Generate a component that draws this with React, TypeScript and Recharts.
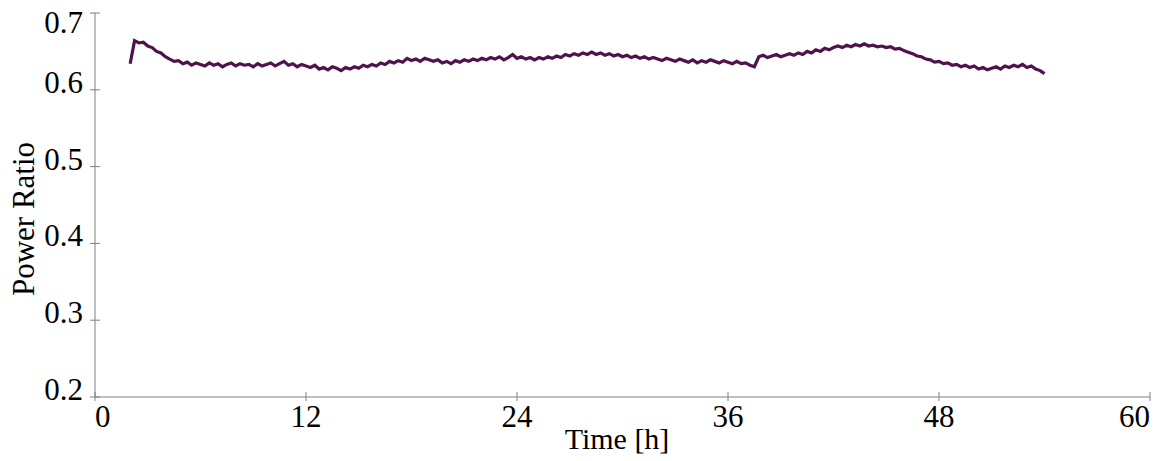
import React from "react";
import { LineChart, Line, XAxis, YAxis, Label } from "recharts";

const hours = [
  2.0, 2.25, 2.5, 2.75, 3.0, 3.25, 3.5, 3.75, 4.0, 4.25, 4.5, 4.75,
  5.0, 5.25, 5.5, 5.75, 6.0, 6.25, 6.5, 6.75, 7.0, 7.25, 7.5, 7.75,
  8.0, 8.25, 8.5, 8.75, 9.0, 9.25, 9.5, 9.75, 10.0, 10.25, 10.5, 10.75,
  11.0, 11.25, 11.5, 11.75, 12.0, 12.25, 12.5, 12.75, 13.0, 13.25, 13.5, 13.75,
  14.0, 14.25, 14.5, 14.75, 15.0, 15.25, 15.5, 15.75, 16.0, 16.25, 16.5, 16.75,
  17.0, 17.25, 17.5, 17.75, 18.0, 18.25, 18.5, 18.75, 19.0, 19.25, 19.5, 19.75,
  20.0, 20.25, 20.5, 20.75, 21.0, 21.25, 21.5, 21.75, 22.0, 22.25, 22.5, 22.75,
  23.0, 23.25, 23.5, 23.75, 24.0, 24.25, 24.5, 24.75, 25.0, 25.25, 25.5, 25.75,
  26.0, 26.25, 26.5, 26.75, 27.0, 27.25, 27.5, 27.75, 28.0, 28.25, 28.5, 28.75,
  29.0, 29.25, 29.5, 29.75, 30.0, 30.25, 30.5, 30.75, 31.0, 31.25, 31.5, 31.75,
  32.0, 32.25, 32.5, 32.75, 33.0, 33.25, 33.5, 33.75, 34.0, 34.25, 34.5, 34.75,
  35.0, 35.25, 35.5, 35.75, 36.0, 36.25, 36.5, 36.75, 37.0, 37.25, 37.5, 37.75,
  38.0, 38.25, 38.5, 38.75, 39.0, 39.25, 39.5, 39.75, 40.0, 40.25, 40.5, 40.75,
  41.0, 41.25, 41.5, 41.75, 42.0, 42.25, 42.5, 42.75, 43.0, 43.25, 43.5, 43.75,
  44.0, 44.25, 44.5, 44.75, 45.0, 45.25, 45.5, 45.75, 46.0, 46.25, 46.5, 46.75,
  47.0, 47.25, 47.5, 47.75, 48.0, 48.25, 48.5, 48.75, 49.0, 49.25, 49.5, 49.75,
  50.0, 50.25, 50.5, 50.75, 51.0, 51.25, 51.5, 51.75, 52.0, 52.25, 52.5, 52.75,
  53.0, 53.25, 53.5, 53.75, 54.0,
];

const powerRatio = [
  0.634, 0.664, 0.661, 0.662, 0.657, 0.655, 0.650, 0.648, 0.643, 0.640, 0.637, 0.638,
  0.634, 0.636, 0.632, 0.635, 0.633, 0.631, 0.635, 0.632, 0.634, 0.630, 0.633, 0.635,
  0.631, 0.634, 0.632, 0.633, 0.630, 0.634, 0.631, 0.633, 0.635, 0.631, 0.634, 0.637,
  0.632, 0.634, 0.630, 0.633, 0.631, 0.629, 0.632, 0.627, 0.629, 0.626, 0.630, 0.628,
  0.625, 0.629, 0.627, 0.630, 0.628, 0.632, 0.630, 0.633, 0.631, 0.635, 0.633, 0.637,
  0.635, 0.638, 0.636, 0.641, 0.638, 0.640, 0.637, 0.641, 0.639, 0.637, 0.639, 0.635,
  0.637, 0.634, 0.638, 0.636, 0.639, 0.637, 0.640, 0.638, 0.641, 0.639, 0.642, 0.640,
  0.643, 0.639, 0.642, 0.646, 0.641, 0.643, 0.640, 0.642, 0.639, 0.642, 0.640, 0.643,
  0.641, 0.644, 0.642, 0.646, 0.644, 0.647, 0.645, 0.648, 0.646, 0.649, 0.646, 0.648,
  0.645, 0.647, 0.644, 0.646, 0.643, 0.645, 0.642, 0.644, 0.641, 0.643, 0.640, 0.642,
  0.640, 0.638, 0.641, 0.639, 0.637, 0.640, 0.638, 0.636, 0.639, 0.635, 0.638, 0.636,
  0.639, 0.637, 0.635, 0.638, 0.636, 0.634, 0.637, 0.634, 0.635, 0.632, 0.630, 0.643,
  0.645, 0.642, 0.644, 0.646, 0.643, 0.645, 0.647, 0.645, 0.648, 0.646, 0.650, 0.648,
  0.652, 0.650, 0.654, 0.652, 0.655, 0.657, 0.655, 0.658, 0.656, 0.659, 0.657, 0.660,
  0.657, 0.658, 0.656, 0.657, 0.655, 0.656, 0.653, 0.654, 0.651, 0.649, 0.647, 0.644,
  0.643, 0.640, 0.639, 0.636, 0.637, 0.634, 0.635, 0.632, 0.633, 0.630, 0.632, 0.629,
  0.631, 0.627, 0.629, 0.626, 0.628, 0.630, 0.627, 0.631, 0.629, 0.632, 0.630, 0.633,
  0.629, 0.631, 0.627, 0.625, 0.621,
];

const xTicks = [0, 12, 24, 36, 48, 60];
const yTicks = [0.2, 0.3, 0.4, 0.5, 0.6, 0.7];

const data = hours.map((t, i) => ({ t, v: powerRatio[i] }));

const FONT = '"Liberation Serif", "Times New Roman", serif';
const AXIS = "#808080";

const XTick = (props: any) => {
  const { x, y, payload } = props;
  const v = payload.value;
  const anchor = v === 0 ? "start" : v === 60 ? "end" : "middle";
  return (
    <g>
      <line x1={x} y1={y - 5} x2={x} y2={y + 4} stroke={AXIS} strokeWidth={1} />
      <text x={x} y={y + 30} textAnchor={anchor} fontFamily={FONT} fontSize={31} fill="#000">
        {v}
      </text>
    </g>
  );
};

const YTick = (props: any) => {
  const { x, y, payload } = props;
  const v = payload.value;
  const baseline = Math.max(y + 3, 33);
  return (
    <g>
      <line x1={x - 5} y1={y} x2={x + 5} y2={y} stroke={AXIS} strokeWidth={1} />
      <text x={x - 12} y={baseline} textAnchor="end" fontFamily={FONT} fontSize={31} fill="#000">
        {v.toFixed(1)}
      </text>
    </g>
  );
};

export default function App() {
  return (
    <div style={{ position: "absolute", left: 0, top: 0, width: 1157, height: 461, background: "#ffffff" }}>
      <LineChart width={1157} height={461} data={data} margin={{ top: 13, right: 7, left: 0, bottom: 0 }}>
        <XAxis
          dataKey="t"
          type="number"
          domain={[0, 60]}
          ticks={xTicks}
          interval={0}
          height={64}
          tickSize={0}
          tickMargin={0}
          tickLine={false}
          axisLine={{ stroke: AXIS, strokeWidth: 1 }}
          tick={(p: any) => <XTick {...p} />}
        >
          <Label
            content={() => (
              <text x={617} y={449} textAnchor="middle" fontFamily={FONT} fontSize={30} fill="#000">
                Time [h]
              </text>
            )}
          />
        </XAxis>
        <YAxis
          type="number"
          domain={[0.2, 0.7]}
          ticks={yTicks}
          interval={0}
          width={95}
          tickSize={0}
          tickMargin={0}
          tickLine={false}
          axisLine={{ stroke: AXIS, strokeWidth: 1 }}
          tick={(p: any) => <YTick {...p} />}
        >
          <Label
            content={() => (
              <text
                x={23}
                y={219}
                transform="rotate(-90 23 219)"
                textAnchor="middle"
                dominantBaseline="central"
                fontFamily={FONT}
                fontSize={31}
                fill="#000"
              >
                Power Ratio
              </text>
            )}
          />
        </YAxis>
        <Line
          type="linear"
          dataKey="v"
          stroke="#50124a"
          strokeWidth={3.2}
          dot={false}
          isAnimationActive={false}
        />
      </LineChart>
    </div>
  );
}
